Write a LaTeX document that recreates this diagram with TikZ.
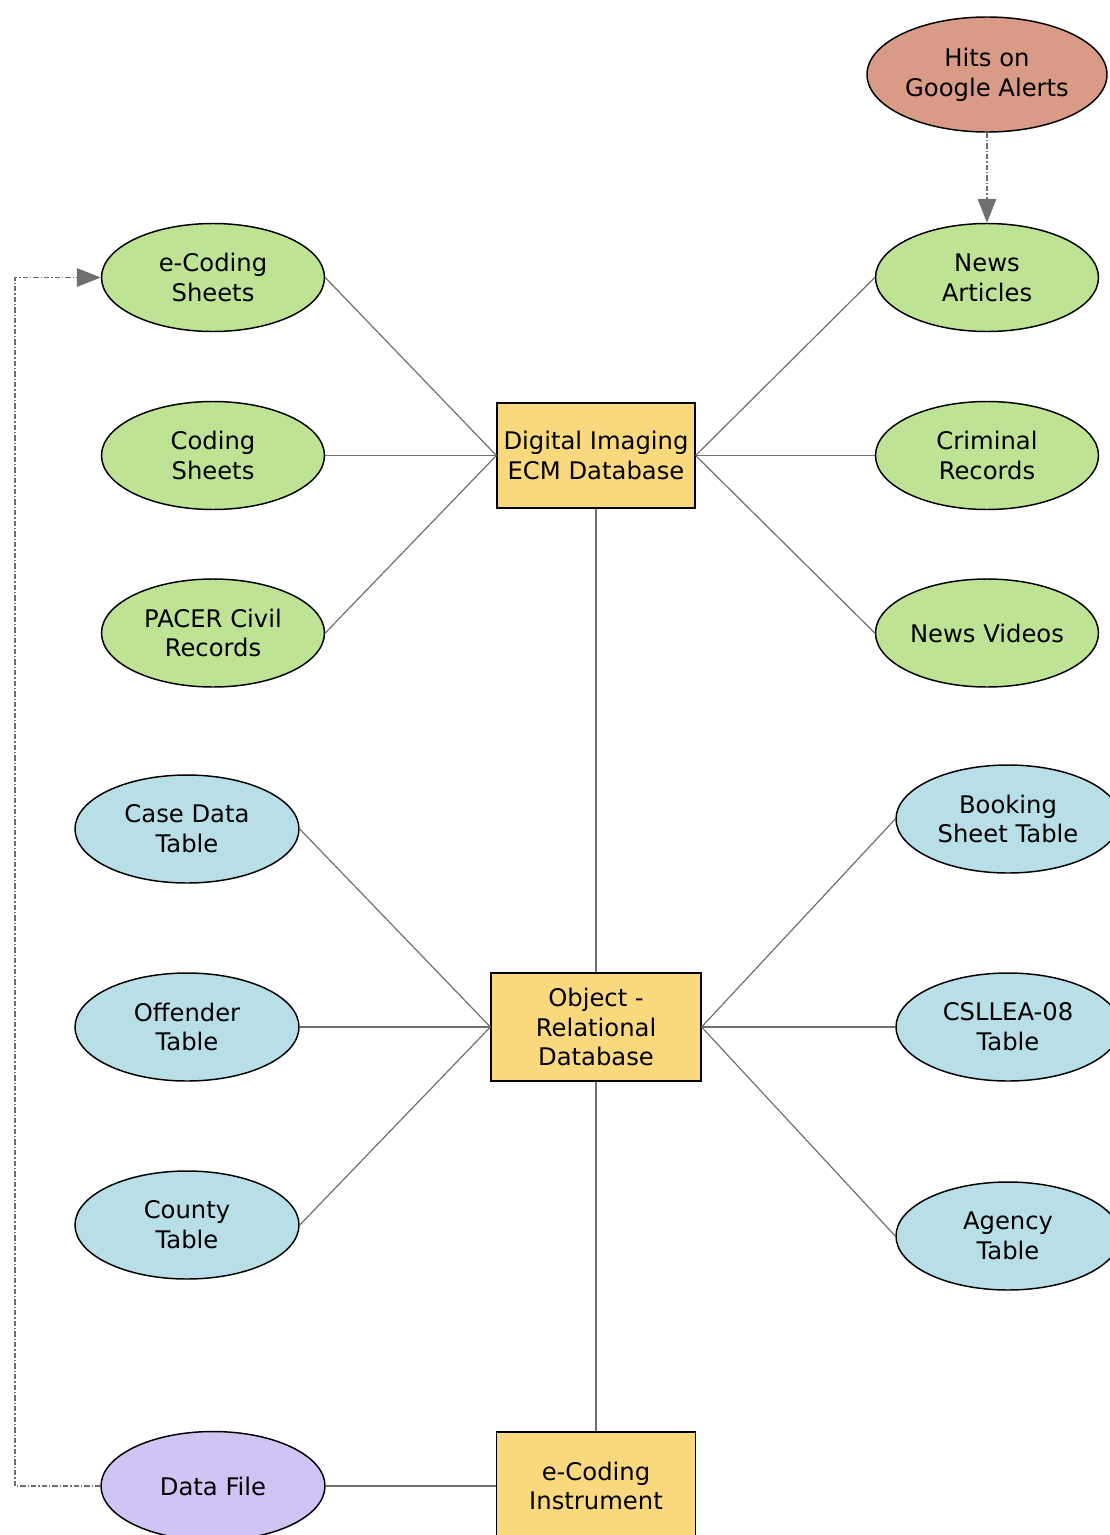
\documentclass[tikz,border=0pt]{standalone}
\usepackage{fontspec}
\setmainfont{DejaVu Sans}
\usetikzlibrary{shapes.geometric,arrows.meta}
\definecolor{salmon}{RGB}{217,155,133}
\definecolor{leaf}{RGB}{190,227,149}
\definecolor{sky}{RGB}{184,223,232}
\definecolor{gold}{RGB}{250,217,126}
\definecolor{lilac}{RGB}{208,196,245}
\definecolor{wire}{RGB}{112,112,112}
\tikzset{
  base/.style={draw=black,line width=1.1pt,align=center,inner sep=0pt,
    font=\fontsize{18.2pt}{22.3pt}\selectfont},
  oval/.style={base,ellipse},
  greenoval/.style={oval,fill=leaf,minimum width=167.25pt,minimum height=81pt},
  blueoval/.style={oval,fill=sky,minimum width=168pt,minimum height=81pt},
  dbbox/.style={base,rectangle,fill=gold,line width=0.9pt},
  link/.style={draw=wire,line width=0.9pt},
  dlink/.style={draw=wire,line width=0.9pt,dash pattern=on 4pt off 1.5pt on 1pt off 1.5pt,
    -{Triangle[length=18pt,width=14pt,fill=wire]}},
}
\begin{document}
\begin{tikzpicture}[x=0.75pt,y=-0.75pt]
\useasboundingbox (0,0) rectangle (1110,1535);
\clip (0,0) rectangle (1110,1535);
% top group
\node[oval,fill=salmon,minimum width=180pt,minimum height=86.25pt] (hits) at (987,74.5) {Hits on\\Google Alerts};
\node[greenoval] (news) at (987,277.5) {News\\Articles};
\node[greenoval] (crim) at (987,455.5) {Criminal\\Records};
\node[greenoval] (vid) at (987,633) {News Videos};
\node[greenoval] (ecs) at (213,277.5) {e-Coding\\Sheets};
\node[greenoval] (cs) at (213,455.5) {Coding\\Sheets};
\node[greenoval] (pacer) at (213,633) {PACER Civil\\Records};
\node[dbbox,minimum width=148.5pt,minimum height=78.75pt] (ecm) at (596,455.5) {Digital Imaging\\ECM Database};
% middle group
\node[blueoval] (case) at (187,829) {Case Data\\Table};
\node[blueoval] (off) at (187,1027) {Offender\\Table};
\node[blueoval] (county) at (187,1225) {County\\Table};
\node[blueoval] (book) at (1008,819) {Booking\\Sheet Table};
\node[blueoval] (csl) at (1008,1027) {CSLLEA-08\\Table};
\node[blueoval] (agency) at (1008,1236) {Agency\\Table};
\node[dbbox,minimum width=157.5pt,minimum height=81pt] (ord) at (596,1027) {Object -\\Relational\\Database};
% bottom
\node[dbbox,minimum width=149.25pt,minimum height=81pt] (eci) at (596,1486) {e-Coding\\Instrument};
\node[oval,fill=lilac,minimum width=168pt,minimum height=81.75pt] (df) at (213,1486) {Data File};
% links
\draw[link] (ecs.east) -- (ecm.west);
\draw[link] (cs.east) -- (ecm.west);
\draw[link] (pacer.east) -- (ecm.west);
\draw[link] (ecm.east) -- (news.west);
\draw[link] (ecm.east) -- (crim.west);
\draw[link] (ecm.east) -- (vid.west);
\draw[link] (ecm.south) -- (ord.north);
\draw[link] (case.east) -- (ord.west);
\draw[link] (off.east) -- (ord.west);
\draw[link] (county.east) -- (ord.west);
\draw[link] (ord.east) -- (book.west);
\draw[link] (ord.east) -- (csl.west);
\draw[link] (ord.east) -- (agency.west);
\draw[link] (ord.south) -- (eci.north);
\draw[link] (df.east) -- (eci.west);
% dash-dot arrows
\draw[dlink] (hits.south) -- (news.north);
\coordinate (lb) at (15,1486);
\coordinate (lt) at (15,277.5);
\draw[dlink] (df.west) -- (lb) -- (lt) -- (ecs.west);
\end{tikzpicture}
\end{document}
